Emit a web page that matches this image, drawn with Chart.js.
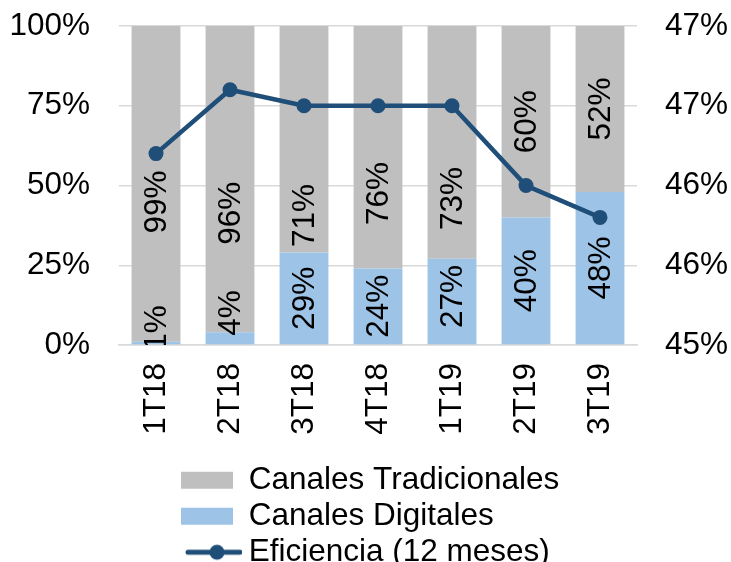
<!DOCTYPE html>
<html>
<head>
<meta charset="utf-8">
<script src="https://cdn.jsdelivr.net/npm/chart.js@4/dist/chart.umd.min.js"></script>
<style>
  html, body { margin: 0; padding: 0; background: #ffffff; }
  #wrap { width: 731px; height: 562px; }
</style>
</head>
<body>
<div id="wrap"><canvas id="c" width="731" height="562"></canvas></div>
<script>
// ---- data ----
const categories = ['1T18', '2T18', '3T18', '4T18', '1T19', '2T19', '3T19'];
const canalesDigitales = [1, 4, 29, 24, 27, 40, 48];
const canalesTradicionales = [99, 96, 71, 76, 73, 60, 52];
const eficiencia = [46.2, 46.6, 46.5, 46.5, 46.5, 46.0, 45.8];
const leftTicks = [0, 25, 50, 75, 100];
const rightTicks = [45, 45.5, 46, 46.5, 47];

const FONT = "'Liberation Sans', Arial, sans-serif";
const FS = 31.5;
const GRAY = '#BFBFBF';
const BLUE = '#9DC3E6';
const NAVY = '#1F4E79';

// legend symbol for the line series: line with a circle marker
function lineMarkerSymbol() {
  const c = document.createElement('canvas');
  c.width = 70; c.height = 18;
  const g = c.getContext('2d');
  g.strokeStyle = NAVY; g.lineWidth = 5; g.lineCap = 'round';
  g.beginPath(); g.moveTo(16, 9); g.lineTo(68, 9); g.stroke();
  g.fillStyle = NAVY;
  g.beginPath(); g.arc(45, 9, 7.5, 0, Math.PI * 2); g.fill();
  return c;
}
const lineSym = lineMarkerSymbol();

// value labels inside the bars (rotated), clipped to the plot area
const barLabelPlugin = {
  id: 'barLabels',
  afterDatasetsDraw(chart, args, opts) {
    const ctx = chart.ctx;
    const area = chart.chartArea;
    const yScale = chart.scales.y;
    const pxPerUnit = (yScale.bottom - yScale.top) / (yScale.max - yScale.min);
    ctx.save();
    ctx.beginPath();
    ctx.rect(area.left, area.top - 40, area.right - area.left, area.bottom - area.top + 40);
    ctx.clip();
    ctx.font = FS + 'px ' + FONT;
    ctx.fillStyle = '#000000';
    ctx.textAlign = 'center';
    ctx.textBaseline = 'middle';
    chart.data.datasets.forEach((ds, di) => {
      if (ds.type === 'line') return;
      const meta = chart.getDatasetMeta(di);
      const shifts = (opts.shifts && opts.shifts[ds.label]) || [];
      meta.data.forEach((el, i) => {
        const txt = ds.data[i] + '%';
        const cy = (el.y + el.base) / 2 + (shifts[i] || 0) * pxPerUnit;
        ctx.save();
        ctx.translate(el.x, cy);
        ctx.rotate(-Math.PI / 2);
        ctx.fillText(txt, 0, 1);
        ctx.restore();
      });
    });
    ctx.restore();
  }
};

const legendRank = { 'Canales Tradicionales': 0, 'Canales Digitales': 1, 'Eficiencia (12 meses)': 2 };

// move the legend block to the reference position
const legendShiftPlugin = {
  id: 'legendShift',
  afterLayout(chart, args, opts) {
    const lg = chart.legend;
    if (!lg) return;
    const dx = opts.left - lg.left;
    lg.left += dx; lg.right += dx;
    lg.top += opts.dy; lg.bottom += opts.dy;
  }
};

new Chart(document.getElementById('c'), {
  data: {
    labels: categories,
    datasets: [
      {
        type: 'bar', label: 'Canales Digitales', data: canalesDigitales,
        backgroundColor: BLUE, yAxisID: 'y', stack: 's', order: 1,
        barPercentage: 0.66, categoryPercentage: 1
      },
      {
        type: 'bar', label: 'Canales Tradicionales', data: canalesTradicionales,
        backgroundColor: GRAY, yAxisID: 'y', stack: 's', order: 1,
        barPercentage: 0.66, categoryPercentage: 1
      },
      {
        type: 'line', label: 'Eficiencia (12 meses)', data: eficiencia,
        yAxisID: 'y1', order: 0,
        borderColor: NAVY, backgroundColor: NAVY, borderWidth: 4.5,
        pointRadius: 7.5, pointHoverRadius: 7.5, pointBackgroundColor: NAVY,
        pointBorderWidth: 0, tension: 0, fill: false
      }
    ]
  },
  options: {
    responsive: false,
    animation: false,
    devicePixelRatio: 1,
    layout: { padding: { left: 0, right: 0, top: 26, bottom: 0 } },
    scales: {
      x: {
        stacked: true,
        grid: { display: false, drawTicks: false },
        border: { display: true, color: '#D9D9D9', width: 1.5 },
        ticks: {
          font: { family: FONT, size: FS }, color: '#000000',
          minRotation: 90, maxRotation: 90, padding: 18, autoSkip: false
        },
        afterFit(scale) { scale.height = 99; scale.paddingLeft = 0; scale.paddingRight = 0; }
      },
      y: {
        stacked: true, position: 'left', min: 0, max: 100,
        afterBuildTicks(scale) { scale.ticks = leftTicks.map(v => ({ value: v })); },
        grid: { color: '#D9D9D9', lineWidth: 1.5, drawTicks: false },
        border: { display: false },
        ticks: {
          font: { family: FONT, size: FS }, color: '#000000', padding: 29,
          callback: v => v + '%'
        },
        afterFit(scale) { scale.width = 119; scale.paddingTop = 0; scale.paddingBottom = 0; }
      },
      y1: {
        position: 'right', min: 45, max: 47,
        afterBuildTicks(scale) { scale.ticks = rightTicks.map(v => ({ value: v })); },
        grid: { drawOnChartArea: false, drawTicks: false },
        border: { display: false },
        ticks: {
          font: { family: FONT, size: FS }, color: '#000000', padding: 28,
          callback: v => Math.round(v) + '%'
        },
        afterFit(scale) { scale.width = 94; scale.paddingTop = 0; scale.paddingBottom = 0; }
      }
    },
    plugins: {
      tooltip: { enabled: false },
      legend: {
        position: 'bottom', align: 'start', fullSize: false,
        labels: {
          font: { family: FONT, size: FS }, color: '#000000',
          usePointStyle: true, pointStyleWidth: 52, boxHeight: 17, padding: 4.5,
          sort: (a, b) => legendRank[a.text] - legendRank[b.text],
          generateLabels(chart) {
            const items = Chart.defaults.plugins.legend.labels.generateLabels(chart);
            items.forEach(it => {
              it.lineWidth = 0;
              it.strokeStyle = 'rgba(0,0,0,0)';
              it.pointStyle = 'rect';
              it.rotation = 0;
              if (it.text === 'Eficiencia (12 meses)') {
                it.pointStyle = lineSym;
                it.fillStyle = NAVY;
              }
            });
            return items;
          }
        }
      },
      legendShift: { left: 176.5, dy: 16 },
      barLabels: {
        shifts: {
          'Canales Tradicionales': [5.7, 10.7, 23.9, 14.5, 17.6, 0, 0],
          'Canales Digitales': [-4.7, -7.9, 0, 0, -1.6, 0, 0]
        }
      }
    }
  },
  plugins: [barLabelPlugin, legendShiftPlugin]
});
</script>
</body>
</html>
